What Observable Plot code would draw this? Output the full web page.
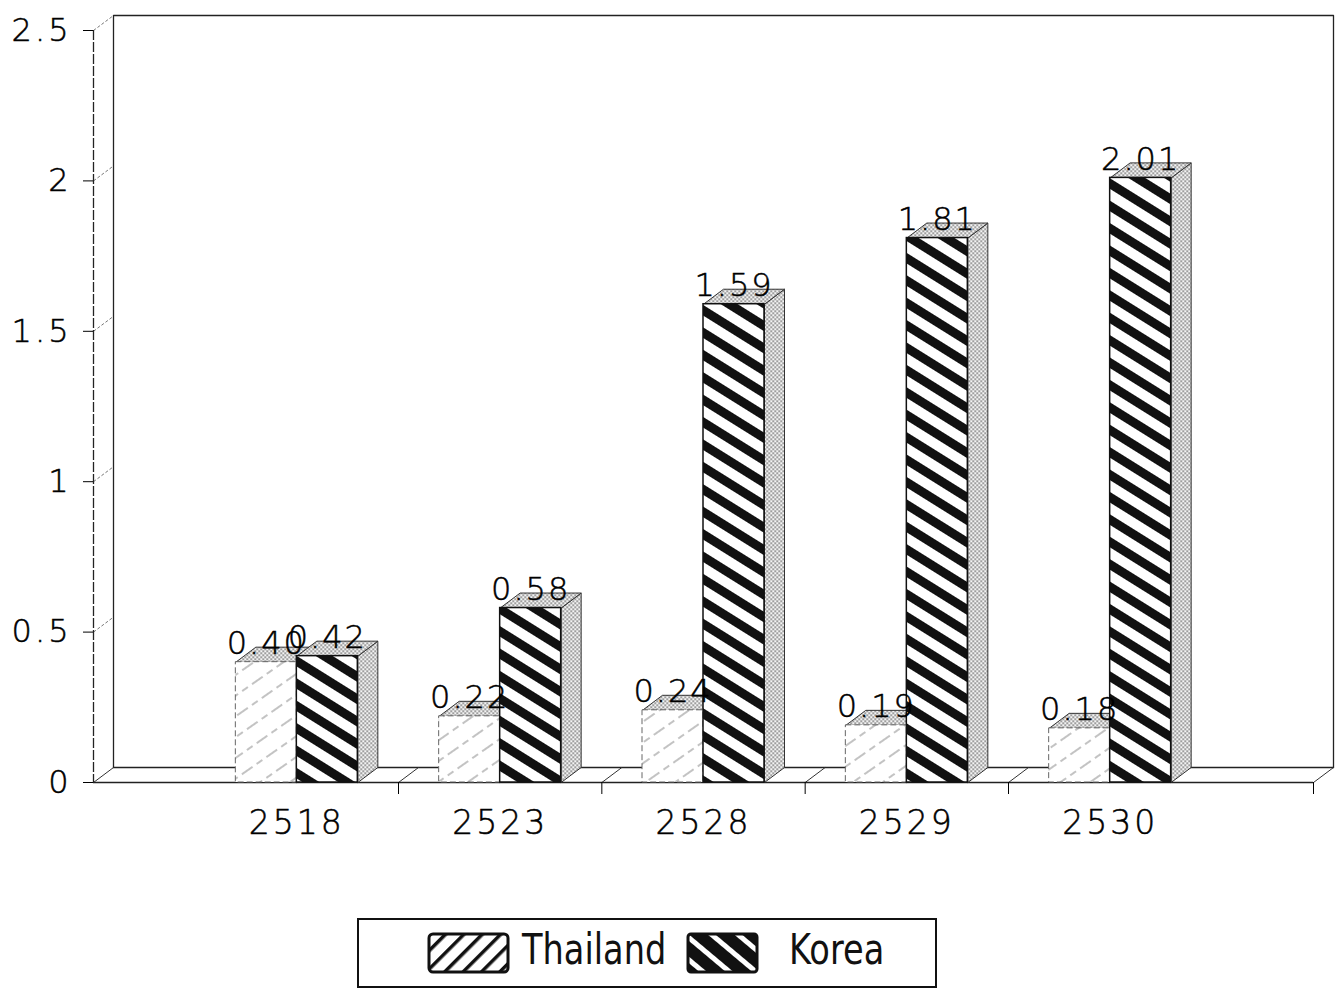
<!DOCTYPE html>
<html>
<head>
<meta charset="utf-8">
<script src="https://cdn.jsdelivr.net/npm/d3@7"></script>
<script src="https://cdn.jsdelivr.net/npm/@observablehq/plot@0.6"></script>
<style>
  html, body { margin: 0; padding: 0; background: #fff; }
  #wrap { position: relative; width: 1341px; height: 992px; overflow: hidden; }
  #chart svg text { letter-spacing: 3px; stroke: #000; stroke-width: 0.5px; }
  #chart svg g.vlabels text { letter-spacing: 2px; }
  .leg { position: absolute; }
  .legtext { position: absolute; font-family: "DejaVu Sans", sans-serif; font-size: 42px; color: #111; line-height: 1; transform: scaleX(0.8); transform-origin: 0 0; }
</style>
</head>
<body>
<svg width="0" height="0" style="position:absolute">
  <defs>
    <pattern id="stipple" width="4" height="4" patternUnits="userSpaceOnUse">
      <rect width="4" height="4" fill="#f4f4f4"/>
      <rect x="0" y="0" width="1.4" height="1.4" fill="#444"/>
      <rect x="2" y="2" width="1.4" height="1.4" fill="#444"/>
    </pattern>
    <pattern id="stripeK" width="20" height="19" patternUnits="userSpaceOnUse" patternTransform="rotate(32)">
      <rect width="20" height="19" fill="#fff"/>
      <rect y="0" width="20" height="9" fill="#111"/>
    </pattern>
    <pattern id="hatchT" width="30" height="17" patternUnits="userSpaceOnUse" patternTransform="rotate(-35)">
      <rect width="30" height="17" fill="#fff"/>
      <line x1="0" y1="8" x2="30" y2="8" stroke="#888" stroke-width="1" stroke-dasharray="7 5"/>
    </pattern>
    <pattern id="legT" width="20" height="13" patternUnits="userSpaceOnUse" patternTransform="rotate(-45)">
      <rect width="20" height="13" fill="#fff"/>
      <rect y="0" width="20" height="3.5" fill="#111"/>
    </pattern>
    <pattern id="legK" width="20" height="17" patternUnits="userSpaceOnUse" patternTransform="rotate(40)">
      <rect width="20" height="17" fill="#111"/>
      <rect y="0" width="20" height="5" fill="#fff"/>
    </pattern>
  </defs>
</svg>
<div id="wrap">
  <div id="chart"></div>
  <div id="legend"></div>
</div>
<script>
// ---- data ----
const years = ["2518", "2523", "2528", "2529", "2530"];
const thailand = [0.40, 0.22, 0.24, 0.19, 0.18];
const korea = [0.42, 0.58, 1.59, 1.81, 2.01];
const seriesNames = ["Thailand", "Korea"];
const yTicks = [0, 0.5, 1, 1.5, 2, 2.5];
const yTickLabels = ["0", "0.5", "1", "1.5", "2", "2.5"];

// ---- layout ----
const W = 1341, H = 880;
const mL = 93, mR = 28, mT = 30, mB = 98;
const xDomain = [-1, 5], yDomain = [0, 2.5];
const kx = (W - mL - mR) / (xDomain[1] - xDomain[0]);
const ky = (H - mT - mB) / (yDomain[1] - yDomain[0]);
const ddx = 20 / kx, ddy = 15 / ky;     // 3-D depth in data units
const BW = 61 / kx;                      // bar width in data units
const boundaries = [0.5, 1.5, 2.5, 3.5, 5];

const bars = [];
years.forEach((y, i) => {
  bars.push({year: y, series: seriesNames[0], v: thailand[i], x1: i - BW, x2: i});
  bars.push({year: y, series: seriesNames[1], v: korea[i], x1: i, x2: i + BW});
});

// polygons for the top and side faces of each bar
const faces = [];
bars.forEach((b, k) => {
  const top = [[b.x1, b.v], [b.x2, b.v], [b.x2 + ddx, b.v + ddy], [b.x1 + ddx, b.v + ddy], [b.x1, b.v]];
  const side = [[b.x2, 0], [b.x2, b.v], [b.x2 + ddx, b.v + ddy], [b.x2 + ddx, ddy], [b.x2, 0]];
  side.forEach(([x, y]) => faces.push({id: "s" + k, x, y}));
  top.forEach(([x, y]) => faces.push({id: "t" + k, x, y}));
});

const x0 = xDomain[0], x1 = xDomain[1], yTop = yDomain[1];
const wall = [
  {id: "w", x: x0 + ddx, y: ddy}, {id: "w", x: x0 + ddx, y: yTop + ddy},
  {id: "w", x: x1 + ddx, y: yTop + ddy}, {id: "w", x: x1 + ddx, y: ddy},
  {id: "f", x: x0 + ddx, y: ddy}, {id: "f", x: x1 + ddx, y: ddy}
];
const floorDiag = [x0, ...boundaries].map(b => ({xa: b, ya: 0, xb: b + ddx, yb: ddy}));
const tickStubs = yTicks.filter(t => t > 0).map(t => ({xa: x0, ya: t, xb: x0 + ddx, yb: t + ddy}));

const font = '"DejaVu Sans", "Liberation Sans", sans-serif';

const plot = Plot.plot({
  width: W, height: H,
  marginLeft: mL, marginRight: mR, marginTop: mT, marginBottom: mB,
  x: {domain: xDomain},
  y: {domain: yDomain},
  style: {fontFamily: font, color: "#000", background: "#fff", overflow: "visible"},
  marks: [
    // back wall and floor
    Plot.line(wall, {x: "x", y: "y", z: "id", stroke: "#222", strokeWidth: 1.3}),
    Plot.link(floorDiag, {x1: "xa", y1: "ya", x2: "xb", y2: "yb", stroke: "#333", strokeWidth: 1}),
    Plot.link(tickStubs, {x1: "xa", y1: "ya", x2: "xb", y2: "yb", stroke: "#666", strokeWidth: 0.9, strokeDasharray: "3 2"}),
    Plot.ruleY([0], {stroke: "#222", strokeWidth: 1.3}),
    Plot.ruleX([x0], {stroke: "#222", strokeWidth: 1.3, strokeDasharray: "10 2"}),
    // 3-D faces
    Plot.line(faces, {x: "x", y: "y", z: "id", fill: "url(#stipple)", stroke: "#333", strokeWidth: 1}),
    // front faces
    Plot.rect(bars.filter(d => d.series === seriesNames[0]), {x1: "x1", x2: "x2", y1: 0, y2: "v", fill: "url(#hatchT)", stroke: "#666", strokeWidth: 1, strokeDasharray: "6 3"}),
    Plot.rect(bars.filter(d => d.series === seriesNames[1]), {x1: "x1", x2: "x2", y1: 0, y2: "v", fill: "url(#stripeK)", stroke: "#111", strokeWidth: 1.5}),
    // value labels
    Plot.text(bars, {x: d => (d.x1 + d.x2) / 2, y: "v", text: d => d.v.toFixed(2), dy: -8, lineAnchor: "bottom", fontSize: 32, fill: "#000", fontWeight: 300, className: "vlabels"}),
    // axes
    Plot.axisY({ticks: yTicks, tickFormat: d => yTickLabels[yTicks.indexOf(d)], tickSize: 10, tickPadding: 12, fontSize: 32, fontWeight: 300, label: null}),
    Plot.axisX({ticks: [0, 1, 2, 3, 4], tickFormat: d => years[d], tickSize: 0, tickPadding: 28, fontSize: 33, fontWeight: 300, label: null}),
    Plot.axisX({ticks: boundaries, tickFormat: () => "", tickSize: 12, label: null})
  ]
});
document.getElementById("chart").appendChild(plot);

// ---- legend (HTML below the plot) ----
const leg = document.getElementById("legend");
leg.innerHTML = `
  <div class="leg" style="left:357px;top:918px;width:580px;height:70px;border:2px solid #111;box-sizing:border-box"></div>
  <svg class="leg" style="left:427px;top:932px" width="84" height="43"><rect x="2" y="2" width="79" height="38" rx="4" fill="url(#legT)" stroke="#111" stroke-width="3"/></svg>
  <div class="legtext" style="left:522px;top:929px">${seriesNames[0]}</div>
  <svg class="leg" style="left:686px;top:932px" width="74" height="43"><rect x="2" y="2" width="69" height="38" rx="3" fill="url(#legK)" stroke="#111" stroke-width="3"/></svg>
  <div class="legtext" style="left:789px;top:929px">${seriesNames[1]}</div>
`;
</script>
</body>
</html>
